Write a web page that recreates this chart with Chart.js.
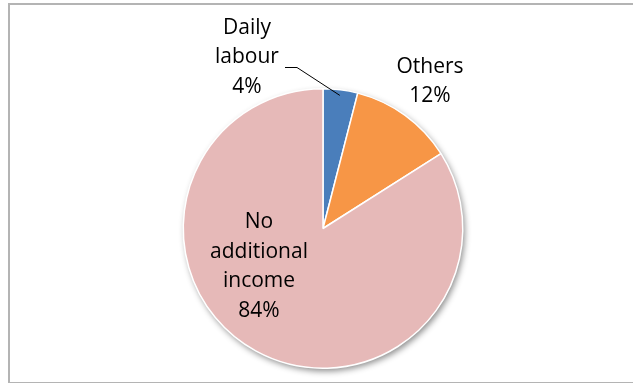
<!DOCTYPE html>
<html>
<head>
<meta charset="utf-8">
<script src="https://cdn.jsdelivr.net/npm/chart.js@4/dist/chart.umd.min.js"></script>
<style>
  html, body { margin: 0; padding: 0; background: #fff; }
  #wrap { position: relative; width: 633px; height: 383px; }
  #frame {
    position: absolute; left: 8px; top: 3px; width: 640px; height: 377px;
    border: 2px solid #b4b4b4; box-sizing: content-box;
  }
  canvas { position: absolute; left: 0; top: 0; }
</style>
</head>
<body>
<div id="wrap">
  <div id="frame"></div>
  <canvas id="chart" width="633" height="383"></canvas>
</div>
<script>
// pie slices, clockwise from 12 o'clock
const categories = ['Daily labour', 'Others', 'No additional income'];
const shares = [4, 12, 84];
const sliceColors = ['#4a7ebb', '#f79646', '#e6b9b8'];

// label lines as drawn in the picture
const labelLines = [['Daily', 'labour', '4%'], ['Others', '12%'], ['No', 'additional', 'income', '84%']];

const FONT = '21px "Open Sans", sans-serif';

// soft drop shadow under the whole pie
const pieShadow = {
  id: 'pieShadow',
  beforeDatasetsDraw(chart) {
    const arc = chart.getDatasetMeta(0).data[0];
    if (!arc) return;
    const ctx = chart.ctx;
    ctx.save();
    ctx.shadowColor = 'rgba(0,0,0,0.45)';
    ctx.shadowBlur = 6;
    ctx.shadowOffsetX = 2;
    ctx.shadowOffsetY = 3;
    ctx.fillStyle = '#ffffff';
    ctx.beginPath();
    ctx.arc(arc.x, arc.y, arc.outerRadius, 0, Math.PI * 2);
    ctx.fill();
    ctx.restore();
  }
};

// category + percent labels; small slice gets a leader line outside
const sliceLabels = {
  id: 'sliceLabels',
  afterDatasetsDraw(chart) {
    const ctx = chart.ctx;
    const arcs = chart.getDatasetMeta(0).data;
    const lh = 29.5;
    ctx.save();
    ctx.font = FONT;
    ctx.fillStyle = '#000';
    ctx.textAlign = 'center';
    ctx.textBaseline = 'middle';
    arcs.forEach((arc, i) => {
      const mid = (arc.startAngle + arc.endAngle) / 2;
      const lines = labelLines[i];
      let cx, cy;
      if (i === 0) {
        // outside, up-left with a leader
        cx = arc.x - 76; cy = arc.y - 171;
        const tx = arc.x + Math.cos(mid) * arc.outerRadius * 0.96;
        const ty = arc.y + Math.sin(mid) * arc.outerRadius * 0.96;
        ctx.strokeStyle = '#000';
        ctx.lineWidth = 1;
        ctx.beginPath();
        ctx.moveTo(cx + 38, cy + 10);
        ctx.lineTo(cx + 50, cy + 10);
        ctx.lineTo(tx, ty);
        ctx.stroke();
      } else if (i === 1) {
        cx = arc.x + 107; cy = arc.y - 147;
      } else {
        cx = arc.x - 64; cy = arc.y + 38;
      }
      const top = cy - (lines.length - 1) * lh / 2;
      lines.forEach((t, k) => ctx.fillText(t, cx, top + k * lh));
    });
    ctx.restore();
  }
};

new Chart(document.getElementById('chart'), {
  type: 'pie',
  data: {
    labels: categories,
    datasets: [{
      data: shares,
      backgroundColor: sliceColors,
      borderColor: '#ffffff',
      borderWidth: 1.5
    }]
  },
  options: {
    responsive: false,
    animation: false,
    layout: { padding: { left: 100, right: 87, top: 88, bottom: 14 } },
    plugins: {
      legend: { display: false },
      tooltip: { enabled: false }
    }
  },
  plugins: [pieShadow, sliceLabels]
});
</script>
</body>
</html>
